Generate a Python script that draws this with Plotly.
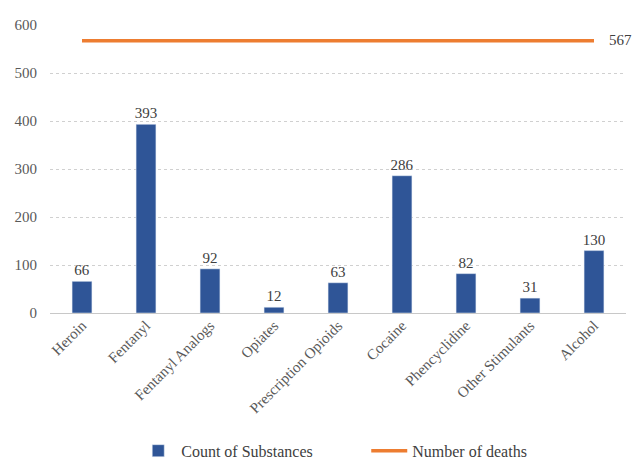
import plotly.graph_objects as go

substances = ["Heroin", "Fentanyl", "Fentanyl Analogs", "Opiates", "Prescription Opioids",
              "Cocaine", "Phencyclidine", "Other Stimulants", "Alcohol"]
counts = [66, 393, 92, 12, 63, 286, 82, 31, 130]
deaths_total = 567
deaths = [deaths_total] * len(substances)
y_ticks = [0, 100, 200, 300, 400, 500, 600]

serif_font = "Liberation Serif"

fig = go.Figure()
fig.add_trace(go.Bar(
    x=substances, y=counts, name="Count of Substances",
    marker=dict(color="#2F5597"),
    text=[str(v) for v in counts], textposition="outside",
    textfont=dict(family=serif_font, size=15, color="#404040"),
    cliponaxis=False,
))
fig.add_trace(go.Scatter(
    x=substances, y=deaths, name="Number of deaths", mode="lines+text",
    line=dict(color="#ED7D31", width=3.5),
    text=[""] * (len(deaths) - 1) + ["    " + str(deaths[-1])],
    textposition="middle right",
    textfont=dict(family=serif_font, size=15, color="#404040"),
    cliponaxis=False,
))

fig.update_layout(
    width=640, height=460,
    margin=dict(l=50, r=14, t=25, b=147),
    paper_bgcolor="white", plot_bgcolor="white",
    font=dict(family=serif_font),
    bargap=0.69,
    showlegend=True,
    legend=dict(orientation="h", x=0.148, xanchor="left",
                yref="container", y=0.02, yanchor="middle",
                font=dict(family=serif_font, size=16, color="#404040"),
                itemwidth=36, entrywidth=180, tracegroupgap=0),
    uniformtext=dict(mode="show", minsize=14),
)
fig.update_xaxes(
    tickangle=-45, tickfont=dict(family=serif_font, size=15, color="#595959"),
    showgrid=False, showline=False, ticks="", automargin=False,
)
fig.update_yaxes(
    range=[0, 600], tickvals=y_ticks, ticktext=[str(t) for t in y_ticks],
    tickfont=dict(family=serif_font, size=15, color="#595959"),
    showgrid=True, gridcolor="#D0D0D0", griddash="dot", gridwidth=1,
    zeroline=True, zerolinecolor="#C8C8C8", zerolinewidth=1,
    showline=False, ticks="", ticklabelstandoff=12, automargin=False,
)

fig.write_html("out.html")
